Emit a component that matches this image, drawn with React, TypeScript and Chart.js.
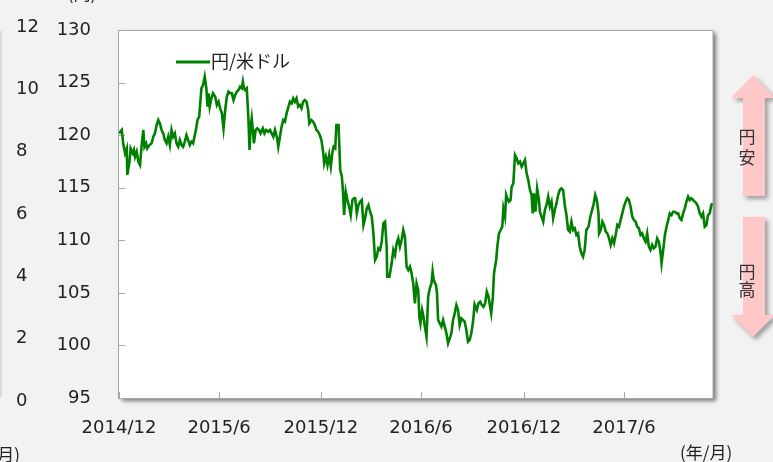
import React, { useEffect, useRef } from "react";
import { Chart, registerables } from "chart.js";

Chart.register(...registerables);

// ---- data ----
const tickDays = [0, 181, 365, 546, 732, 913];
const tickLabels = ["2014/12", "2015/6", "2015/12", "2016/6", "2016/12", "2017/6"];
const yenTicks = [95, 100, 105, 110, 115, 120, 125, 130];
const leftTicks = [0, 2, 4, 6, 8, 10, 12];
const seriesName = "円/米ドル";

const days = [
  0, 5, 8, 11, 14, 15, 19, 21, 25, 27, 29, 32, 35, 38, 41, 44, 46, 49, 51, 55,
  59, 62, 65, 68, 71, 74, 77, 80, 83, 86, 89, 92, 95, 98, 101, 104, 107, 110, 113, 116,
  119, 122, 125, 128, 131, 134, 139, 142, 145, 149, 152, 155, 158, 160, 162, 164, 167, 170, 174, 177,
  180, 183, 186, 189, 192, 195, 198, 201, 204, 207, 210, 213, 216, 219, 222, 224, 226, 228, 231, 234,
  236, 238, 240, 243, 244, 247, 250, 253, 256, 260, 263, 266, 270, 273, 276, 279, 282, 286, 288, 291,
  294, 297, 300, 303, 309, 312, 315, 318, 321, 324, 327, 330, 333, 336, 339, 342, 344, 348, 351, 354,
  357, 360, 363, 366, 369, 371, 374, 377, 380, 383, 386, 388, 391, 393, 397, 400, 403, 405, 407, 410,
  413, 416, 419, 422, 425, 427, 430, 433, 436, 439, 442, 445, 448, 451, 454, 457, 460, 463, 466, 469,
  472, 475, 478, 481, 484, 485, 489, 493, 496, 499, 502, 505, 508, 511, 514, 517, 520, 523, 526, 529,
  532, 535, 538, 541, 543, 545, 548, 550, 553, 556, 559, 562, 565, 567, 569, 573, 575, 577, 580, 583,
  586, 589, 592, 595, 598, 601, 604, 607, 610, 613, 616, 619, 622, 625, 628, 631, 634, 637, 640, 643,
  647, 650, 653, 656, 659, 662, 665, 668, 671, 673, 676, 678, 682, 684, 687, 690, 693, 695, 698, 700,
  702, 705, 708, 710, 713, 716, 719, 722, 725, 728, 731, 734, 737, 740, 743, 746, 748, 750, 753, 756,
  759, 761, 764, 767, 770, 773, 776, 779, 782, 785, 788, 791, 794, 797, 800, 803, 806, 809, 812, 815,
  818, 821, 824, 827, 830, 833, 836, 839, 842, 845, 849, 852, 855, 858, 861, 864, 867, 868, 871, 874,
  877, 880, 883, 886, 889, 892, 895, 898, 901, 904, 907, 910, 913, 916, 919, 922, 925, 928, 931, 934,
  937, 940, 943, 946, 949, 952, 955, 958, 961, 964, 967, 970, 973, 976, 979, 981, 984, 987, 990, 993,
  996, 999, 1002, 1005, 1008, 1011, 1014, 1017, 1020, 1023, 1026, 1029, 1032, 1035, 1038, 1041, 1044, 1047, 1050, 1053,
  1056, 1059, 1062, 1065, 1068, 1071, 1073,
];

const usdjpy = [
  120.17, 120.49, 119.06, 118.27, 118.74, 116.21, 117.48, 118.74, 118.27, 118.59, 117.95, 118.43, 117.48, 117.16, 119.06, 120.49, 118.9, 119.22, 118.74, 119.06,
  119.22, 119.85, 120.17, 120.96, 121.44, 121.12, 120.49, 120.17, 119.54, 119.22, 119.85, 119.06, 120.49, 119.85, 120.17, 119.22, 118.9, 119.54, 119.06, 118.9,
  119.38, 120.01, 119.54, 119.06, 119.38, 119.22, 120.49, 121.44, 121.76, 124.45, 124.77, 125.56, 124.45, 122.71, 123.98, 122.71, 123.5, 123.98, 123.66, 122.87,
  123.18, 122.55, 122.07, 120.65, 122.39, 123.66, 124.13, 123.98, 123.98, 123.34, 123.82, 124.13, 124.29, 124.61, 124.45, 125.09, 124.45, 124.29, 124.45, 121.6,
  118.59, 120.81, 121.6, 119.85, 119.22, 120.49, 120.65, 120.49, 120.17, 120.65, 120.17, 120.49, 120.33, 120.49, 120.17, 119.85, 120.49, 119.7, 118.9, 119.85,
  120.81, 121.44, 121.28, 122.07, 123.18, 123.02, 123.5, 123.18, 123.5, 122.71, 122.87, 122.55, 123.18, 123.34, 123.18, 122.39, 121.12, 121.44, 121.28, 120.96,
  120.49, 120.33, 120.01, 119.54, 118.43, 117.32, 117.95, 117.16, 118.11, 117.0, 118.43, 118.9, 118.75, 120.96, 120.96, 116.69, 116.05, 114.62, 112.4, 114.62,
  113.83, 113.2, 112.4, 113.83, 113.99, 113.99, 112.56, 113.36, 113.67, 113.83, 111.45, 112.09, 113.04, 113.36, 112.72, 112.25, 110.66, 108.12, 108.44, 109.23,
  109.08, 109.87, 111.61, 111.77, 109.39, 106.54, 106.54, 107.81, 109.08, 108.6, 109.71, 110.19, 109.39, 110.03, 110.98, 110.34, 107.49, 107.17, 107.49, 106.86,
  105.9, 104.0, 105.9, 105.27, 102.74, 102.1, 103.37, 102.89, 101.79, 100.83, 104.64, 105.43, 105.9, 107.02, 106.22, 105.75, 104.95, 102.42, 102.1, 101.79,
  102.42, 101.79, 101.15, 100.2, 100.67, 101.15, 102.42, 103.05, 103.84, 103.37, 101.94, 102.57, 102.42, 102.26, 101.47, 100.36, 100.52, 101.15, 102.2, 103.9,
  103.37, 104.0, 104.16, 103.84, 103.68, 104.0, 105.11, 104.64, 103.68, 103.05, 104.64, 106.85, 108.12, 109.39, 110.66, 110.98, 111.3, 113.04, 112.25, 114.31,
  113.99, 113.67, 113.83, 115.1, 115.42, 118.11, 117.8, 117.32, 117.48, 117.0, 117.32, 117.64, 116.37, 115.73, 114.78, 114.31, 112.56, 114.46, 112.72, 114.94,
  113.99, 112.72, 112.25, 111.77, 112.88, 113.36, 114.15, 113.2, 113.67, 112.09, 112.88, 113.51, 114.31, 114.78, 114.94, 114.78, 113.36, 112.4, 110.98, 110.82,
  111.77, 110.98, 111.14, 110.5, 110.66, 109.39, 108.76, 108.44, 109.08, 110.98, 111.3, 112.2, 112.8, 113.4, 114.31, 113.83, 112.56, 110.66, 110.98, 111.77,
  111.45, 110.82, 110.66, 110.18, 109.55, 110.18, 109.71, 110.5, 111.45, 111.29, 111.93, 112.56, 113.2, 113.67, 113.99, 113.83, 113.2, 112.25, 111.93, 111.77,
  111.29, 111.14, 110.5, 110.66, 110.18, 109.87, 110.66, 109.39, 109.08, 109.55, 109.23, 109.39, 110.18, 109.87, 108.92, 107.81, 109.08, 110.5, 111.29, 111.93,
  112.56, 112.4, 112.72, 112.72, 112.56, 112.56, 112.09, 111.93, 112.56, 113.04, 113.67, 114.15, 113.83, 113.99, 113.83, 113.67, 113.51, 113.2, 112.56, 112.25,
  112.56, 111.29, 111.45, 112.4, 112.56, 113.35, 113.51,
];

const FONT = "'DejaVu Sans', 'Noto Sans CJK JP', sans-serif";
const CJK = "'Noto Sans CJK JP', 'DejaVu Sans', sans-serif";
const GREEN = "#008000";

function drawArrow(ctx: CanvasRenderingContext2D, up: boolean) {
  const cx = 753;
  const sl = 743, sr = 765, hl = 731, hr = 775;
  ctx.save();
  ctx.shadowColor = "rgba(0,0,0,0.35)";
  ctx.shadowBlur = 4;
  ctx.shadowOffsetX = 3;
  ctx.shadowOffsetY = 3;
  ctx.fillStyle = "#ffc8c8";
  ctx.beginPath();
  if (up) {
    const tip = 75, hb = 98, bot = 196;
    ctx.moveTo(cx, tip);
    ctx.lineTo(hr, hb);
    ctx.lineTo(sr, hb);
    ctx.lineTo(sr, bot);
    ctx.lineTo(sl, bot);
    ctx.lineTo(sl, hb);
    ctx.lineTo(hl, hb);
  } else {
    const top = 217, hb = 315, tip = 337;
    ctx.moveTo(sl, top);
    ctx.lineTo(sr, top);
    ctx.lineTo(sr, hb);
    ctx.lineTo(hr, hb);
    ctx.lineTo(cx, tip);
    ctx.lineTo(hl, hb);
    ctx.lineTo(sl, hb);
  }
  ctx.closePath();
  ctx.fill();
  ctx.restore();
}

const decorPlugin = {
  id: "decor",
  beforeDraw(chart: any) {
    const { ctx, chartArea } = chart;
    const { left, top, right, bottom } = chartArea;
    ctx.save();
    ctx.fillStyle = "#f2f2f2";
    ctx.fillRect(0, 0, chart.width, chart.height);
    // edge of neighbouring panel
    ctx.fillStyle = "#d9d9d9";
    ctx.fillRect(0, 31, 2, 366);
    // plot box with shadow
    ctx.shadowColor = "rgba(0,0,0,0.5)";
    ctx.shadowBlur = 4;
    ctx.shadowOffsetX = 3;
    ctx.shadowOffsetY = 3;
    ctx.fillStyle = "#ffffff";
    ctx.fillRect(left, top, right - left, bottom - top);
    ctx.restore();
  },
  beforeDatasetsDraw(chart: any) {
    const { ctx, chartArea, scales } = chart;
    const { left, top, right, bottom } = chartArea;
    ctx.save();
    ctx.strokeStyle = "#a6a6a6";
    ctx.lineWidth = 1;
    ctx.strokeRect(left - 0.5, top + 0.5, right - left + 0.5, bottom - top);
    ctx.beginPath();
    yenTicks.forEach((v) => {
      const py = Math.round(scales.y.getPixelForValue(v)) + 0.5;
      ctx.moveTo(left, py);
      ctx.lineTo(left + 6, py);
    });
    tickDays.forEach((d) => {
      const px = Math.round(scales.x.getPixelForValue(d)) + 0.5;
      ctx.moveTo(px, bottom);
      ctx.lineTo(px, bottom - 6);
    });
    ctx.stroke();
    ctx.restore();
  },
  afterDraw(chart: any) {
    const { ctx } = chart;
    ctx.save();
    // legend
    ctx.strokeStyle = GREEN;
    ctx.lineWidth = 3;
    ctx.beginPath();
    ctx.moveTo(176, 62);
    ctx.lineTo(210, 62);
    ctx.stroke();
    ctx.fillStyle = "#222";
    ctx.font = `18px ${CJK}`;
    ctx.textAlign = "left";
    ctx.textBaseline = "middle";
    ctx.fillText(seriesName, 211, 61);

    // arrows
    drawArrow(ctx, true);
    drawArrow(ctx, false);
    ctx.fillStyle = "#333";
    ctx.font = `17px ${CJK}`;
    ctx.textAlign = "center";
    ctx.textBaseline = "middle";
    ctx.fillText("円", 747, 137);
    ctx.fillText("安", 747, 158);
    ctx.fillText("円", 747, 272);
    ctx.fillText("高", 747, 290);

    // unit labels
    ctx.fillStyle = "#222";
    ctx.font = `17px ${CJK}`;
    ctx.textAlign = "left";
    ctx.fillText("(年/月)", 680, 453);
    ctx.textAlign = "right";
    ctx.fillText("(年/月)", 20, 455);
    ctx.textAlign = "center";
    ctx.textBaseline = "alphabetic";
    ctx.fillText("(円)", 82, 0);
    ctx.restore();
  },
};

export default function App() {
  const ref = useRef<HTMLCanvasElement | null>(null);

  useEffect(() => {
    if (!ref.current) return;
    const points = days.map((d, i) => ({ x: d, y: usdjpy[i] }));
    const tickFont = { family: FONT, size: 18 };
    const chart = new Chart(ref.current, {
      type: "line",
      data: {
        datasets: [
          {
            label: seriesName,
            data: points,
            borderColor: GREEN,
            backgroundColor: GREEN,
            borderWidth: 2.6,
            pointRadius: 0,
            tension: 0,
            yAxisID: "y",
            xAxisID: "x",
          },
        ],
      },
      options: {
        animation: false,
        responsive: false,
        devicePixelRatio: 1,
        layout: { padding: { left: 16, right: 60, top: 30, bottom: 0 } },
        plugins: { legend: { display: false }, tooltip: { enabled: false } },
        scales: {
          x: {
            type: "linear",
            min: 0,
            max: 1074,
            afterBuildTicks: (s: any) => {
              s.ticks = tickDays.map((v) => ({ value: v }));
            },
            afterFit: (s: any) => {
              s.height = 64;
              s.paddingLeft = 0;
              s.paddingRight = 0;
            },
            ticks: {
              autoSkip: false,
              maxRotation: 0,
              padding: 20,
              font: tickFont,
              color: "#222",
              callback: (_v: any, i: number) => tickLabels[i],
            },
            grid: { display: false, drawTicks: false },
            border: { display: false },
          },
          y: {
            position: "left",
            weight: 0,
            min: 95,
            max: 130,
            afterBuildTicks: (s: any) => {
              s.ticks = yenTicks.map((v) => ({ value: v }));
            },
            afterFit: (s: any) => {
              s.width = 63;
              s.paddingTop = 0;
              s.paddingBottom = 0;
            },
            ticks: { padding: 28, font: tickFont, color: "#222" },
            grid: { display: false, drawTicks: false },
            border: { display: false },
          },
          y2: {
            position: "left",
            weight: 1,
            min: 0.1,
            max: 11.9,
            afterBuildTicks: (s: any) => {
              s.ticks = leftTicks.map((v) => ({ value: v }));
            },
            afterFit: (s: any) => {
              s.width = 40;
              s.paddingTop = 0;
              s.paddingBottom = 0;
            },
            ticks: { padding: 0, crossAlign: "far", font: tickFont, color: "#222" },
            grid: { display: false, drawTicks: false },
            border: { display: false },
          },
        },
      } as any,
      plugins: [decorPlugin],
    });
    return () => chart.destroy();
  }, []);

  return (
    <div
      style={{
        position: "fixed",
        left: 0,
        top: 0,
        width: 773,
        height: 462,
        background: "#f2f2f2",
        overflow: "hidden",
      }}
    >
      <canvas ref={ref} width={773} height={462} style={{ display: "block" }} />
    </div>
  );
}
